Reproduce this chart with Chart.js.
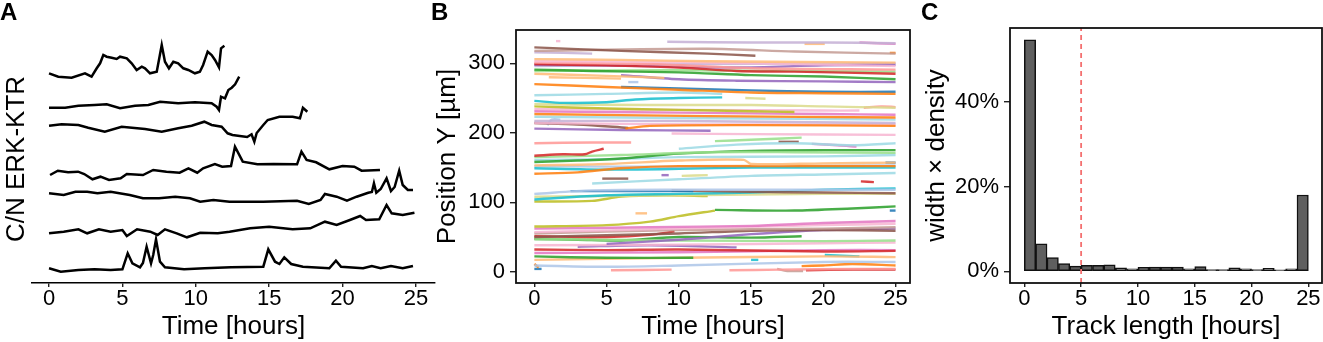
<!DOCTYPE html>
<html>
<head>
<meta charset="utf-8">
<script src="https://cdn.jsdelivr.net/npm/chart.js@4.4.1/dist/chart.umd.min.js"></script>
<style>
  body { margin: 0; background: #fff; }
  #wrap { position: relative; width: 1323px; height: 342px; overflow: hidden; font-family: 'Liberation Sans', Arial, sans-serif; }
  canvas { position: absolute; top: 0; }
  .tag { position: absolute; top: 0px; font-weight: bold; font-size: 24px; line-height: 24px; }
</style>
</head>
<body>
<div id="wrap">
  <canvas id="chartA" width="440" height="342" style="left:0px"></canvas>
  <canvas id="chartB" width="484" height="342" style="left:430px"></canvas>
  <canvas id="chartC" width="413" height="342" style="left:910px"></canvas>
  <div class="tag" style="left:0px">A</div>
  <div class="tag" style="left:431px">B</div>
  <div class="tag" style="left:921px">C</div>
</div>
<script>
// ---- panel A: C/N ERK-KTR traces of single cells, stacked with an offset ----
var timeTicks = [0, 5, 10, 15, 20, 25];

var trace1 = [[0,2.097],[0.63,2.063],[1.54,2.053],[2.45,2.097],[2.9,2.063],[3.25,2.147],[3.48,2.197],[3.7,2.28],[3.93,2.263],[4.27,2.253],[4.61,2.24],[4.84,2.263],[5.3,2.247],[5.63,2.197],[5.97,2.13],[6.32,2.163],[6.54,2.147],[6.88,2.097],[7.34,2.113],[7.68,2.38],[7.9,2.213],[8.17,2.147],[8.47,2.213],[8.8,2.197],[9.15,2.147],[9.49,2.13],[9.94,2.097],[10.28,2.113],[10.5,2.18],[10.81,2.313],[11.08,2.28],[11.31,2.23],[11.58,2.157],[11.72,2.347],[11.95,2.373]];
var trace2 = [[0,1.753],[1.1,1.753],[2.0,1.773],[3.1,1.78],[3.93,1.787],[4.84,1.747],[5.86,1.773],[6.77,1.78],[7.57,1.813],[8.8,1.797],[9.94,1.807],[11.08,1.797],[11.42,1.763],[11.58,1.73],[11.72,1.863],[11.99,1.847],[12.22,1.93],[12.45,1.953],[12.68,1.987],[12.96,2.063]];
var trace3 = [[0,1.573],[0.86,1.587],[2.0,1.58],[2.67,1.553],[3.8,1.513],[4.95,1.563],[6.54,1.54],[7.68,1.513],[8.8,1.547],[9.72,1.573],[10.58,1.613],[11.08,1.58],[11.76,1.563],[12.17,1.497],[12.5,1.48],[13.0,1.47],[13.5,1.46],[13.8,1.487],[13.99,1.413],[14.15,1.5],[14.6,1.58],[14.9,1.63],[15.7,1.663],[16.6,1.663],[17.1,1.647],[17.3,1.753],[17.6,1.713]];
var trace4 = [[0.07,1.08],[0.6,1.123],[1.3,1.107],[1.98,1.113],[2.4,1.09],[2.96,1.037],[3.5,1.063],[4.09,1.03],[4.88,1.047],[5.3,1.09],[6.4,1.08],[7.1,1.13],[8.0,1.113],[8.9,1.103],[9.5,1.147],[10.1,1.103],[10.5,1.147],[11.3,1.19],[11.8,1.163],[12.4,1.17],[12.67,1.363],[13.2,1.213],[14.2,1.187],[15.3,1.19],[16.9,1.187],[17.2,1.313],[17.55,1.23],[18.2,1.207],[19.1,1.137],[20.0,1.17],[20.8,1.163],[21.3,1.123],[22.55,1.13]];
var trace5 = [[0,0.897],[1.0,0.88],[1.8,0.913],[2.6,0.913],[3.3,0.897],[4.2,0.913],[5.5,0.88],[6.4,0.847],[7.5,0.847],[8.6,0.863],[9.6,0.847],[10.3,0.813],[11.2,0.83],[12.3,0.813],[14.6,0.813],[16.9,0.823],[17.7,0.79],[18.5,0.83],[18.8,0.89],[19.6,0.863],[20.3,0.823],[20.96,0.863],[21.75,0.903],[22.0,0.91],[22.14,0.997],[22.3,0.903],[22.6,0.94],[23.0,1.047],[23.3,0.92],[23.55,0.96],[23.86,1.123],[24.1,0.98],[24.45,0.93],[24.8,0.93]];
var trace6 = [[0,0.497],[1.0,0.513],[2.0,0.537],[2.6,0.497],[3.4,0.537],[4.2,0.513],[5.0,0.53],[5.3,0.47],[6.0,0.537],[6.9,0.513],[7.4,0.48],[7.9,0.537],[8.7,0.497],[9.4,0.457],[10.3,0.503],[11.5,0.497],[12.3,0.513],[13.0,0.53],[13.7,0.547],[15.0,0.563],[16.6,0.537],[17.8,0.547],[18.8,0.613],[19.6,0.58],[20.5,0.63],[21.2,0.67],[21.6,0.63],[22.5,0.637],[23.0,0.78],[23.35,0.697],[24.1,0.68],[24.9,0.703]];
var trace7 = [[0,0.147],[0.8,0.113],[2.0,0.13],[3.1,0.137],[4.2,0.13],[5.0,0.137],[5.36,0.297],[5.68,0.197],[6.2,0.157],[6.4,0.2],[6.65,0.363],[6.95,0.197],[7.1,0.28],[7.29,0.437],[7.56,0.213],[7.9,0.157],[9.2,0.137],[10.6,0.147],[12.4,0.157],[14.6,0.163],[14.94,0.337],[15.4,0.213],[15.7,0.19],[16.03,0.257],[16.5,0.19],[17.3,0.163],[19.1,0.147],[19.55,0.223],[19.9,0.163],[21.4,0.147],[22.0,0.17],[22.6,0.147],[23.3,0.17],[24.1,0.147],[24.8,0.17]];
var ktrTraces = [trace1, trace2, trace3, trace4, trace5, trace6, trace7];

// ---- panel B: nucleus tracks, [time h, position Y um] ----
var positionTicks = [0, 100, 200, 300];
var trackPoints = [
  [[9.2,331],[15,330],[20,330],[25,329]],
  [[1.5,332],[1.8,332]],
  [[18.7,328],[20.1,328]],
  [[22.5,330],[25,328]],
  [[0,323],[6,318],[12,314],[15.3,311]],
  [[0,318],[12,321],[18,317],[25,314]],
  [[0,316],[4,314]],
  [[24.6,315],[25,315]],
  [[0,306],[6,305],[12,303],[25,301]],
  [[0,303],[10,302],[25,296]],
  [[0,301],[8,299],[15,293],[25,291]],
  [[0,299],[5,297],[10,294],[14,289],[18,288],[25,285]],
  [[0,298],[8,296],[14,294],[20,297],[25,298]],
  [[0,296],[12,299],[25,300]],
  [[0,291],[4,289],[10,287],[15,283],[20,281],[25,277]],
  [[0,289],[10,290],[25,288]],
  [[0,285],[5,282],[9,279]],
  [[1,280],[6,278]],
  [[6,283],[10,277],[14,275],[20,274],[25,273]],
  [[6.5,273],[7.2,273]],
  [[0,270],[5,266],[10,262],[15,258],[20,257],[25,256]],
  [[6,266],[10,264],[15,261],[20,259],[25,259]],
  [[0,254],[5,256],[10,258],[13,256]],
  [[14.6,250],[16,249]],
  [[0,246],[2,243],[5,244],[7,248],[10,250],[13,251]],
  [[0,241],[8,240],[15,240],[20,238],[25,236]],
  [[0,238],[5,235],[10,233],[15,231],[18,230]],
  [[0,234],[10,233],[20,232],[22.5,232]],
  [[22.8,236],[24,238],[25,237]],
  [[0,231],[10,229],[20,227],[25,226]],
  [[0,227],[12,224],[25,222]],
  [[6.3,206],[8,210],[15,211],[25,210]],
  [[0,223],[12,221],[25,219]],
  [[0,217],[10,217],[25,214]],
  [[0,214],[12,212],[25,212]],
  [[0,214],[3,212],[6.5,207]],
  [[0,206],[6,204],[12.2,203]],
  [[0.9,211],[1.2,219],[1.8,219]],
  [[9.5,199],[15,198],[25,197]],
  [[0,185],[4,186],[6.7,186]],
  [[12.5,188],[15,190],[18.5,193]],
  [[10,177],[14,183],[18,185],[22,182],[25,185]],
  [[16.9,187],[18.3,187]],
  [[19.2,184],[21,182],[22.3,180]],
  [[0,167],[2,169],[3.5,169],[4,173],[4.8,177]],
  [[0,165],[6,168],[12,172],[18,172],[25,171]],
  [[0,158],[3,160],[6,163],[10,170],[15,174],[20,175],[25,175]],
  [[0,161],[5,162],[10,165],[20,166],[25,168]],
  [[0,153],[5,155],[10,160],[14.5,161],[15,155],[20,156],[25,157]],
  [[0,141],[3,143],[6,149],[10,152],[25,152]],
  [[0,149],[5,147],[10,148],[15,150],[20,150],[25,150]],
  [[0,152],[10,151],[25,153]],
  [[24.3,157],[25,157]],
  [[4,127],[10,133],[15,138],[20,140],[25,142]],
  [[4.7,134],[6.5,134]],
  [[8.8,139],[9.3,139]],
  [[10.2,138],[12,139]],
  [[22.6,130],[23.5,129]],
  [[0,112],[4,117],[10,118],[25,118]],
  [[2.5,116],[6,116],[11,116]],
  [[9.5,117],[15,115],[20,114],[25,113]],
  [[0,104],[5,110],[10,112],[15,114],[20,118],[25,120]],
  [[0,108],[10,110],[20,112],[25,112]],
  [[0,101],[4,102],[6,108],[9,110],[12,109]],
  [[7,84],[7.8,84]],
  [[0,65],[5,67],[8,72],[10,80],[12.5,88]],
  [[12.5,89],[18,88],[22,91],[25,94]],
  [[24.6,88],[25,88]],
  [[0,62],[8,64],[15,66],[20,70],[25,73]],
  [[0,57],[10,62],[20,67],[25,69]],
  [[0,55],[10,60],[20,62],[25,64]],
  [[0,50],[10,55],[15,59],[20,60],[25,59]],
  [[0,51],[5,50],[8,53],[9.7,58]],
  [[5,40],[10,46],[15,54],[20,60],[25,62]],
  [[0,47],[10,45],[20,44],[25,45]],
  [[0,47],[3,46],[6,45],[10,50],[15,49],[18.5,51]],
  [[0,38],[10,39],[20,41],[25,42]],
  [[3,36],[8,38],[14,35]],
  [[0,32],[5,31],[10,32],[20,29],[25,30]],
  [[0,27],[10,28],[20,31],[25,31]],
  [[0,22],[5,20],[11,20]],
  [[0,17],[10,20],[20,22],[25,21]],
  [[15,17],[15.5,17]],
  [[20.1,24],[22.5,22]],
  [[0,9],[5,7],[10,9],[20,14],[25,14]],
  [[5.3,2],[9.5,3]],
  [[13.5,2],[17,3],[22,4],[25,4]],
  [[18.5,8],[20,9],[22,11],[25,9]],
  [[18.8,2],[22,3],[25,3]],
  [[16.8,4],[17.5,1],[18.6,1]],
  [[0,11],[0.3,6]],
  [[0,4],[0.5,4]]
];
// tab20 colour index for each track above
var trackColor = [9,13,3,12,10,11,9,2,3,13,7,6,8,9,4,5,3,3,8,1,2,0,19,17,18,17,16,13,7,12,2,2,19,9,13,10,8,1,13,7,5,19,10,12,6,5,4,19,3,2,18,1,0,19,10,8,17,6,1,0,10,18,17,16,3,16,4,0,12,13,11,10,6,8,5,4,13,8,6,12,4,3,18,18,1,7,7,2,6,11,2,0];

// ---- panel C: histogram of track length ----
var binCenters = [0.5,1.5,2.5,3.5,4.5,5.5,6.5,7.5,8.5,9.5,10.5,11.5,12.5,13.5,14.5,15.5,16.5,17.5,18.5,19.5,20.5,21.5,22.5,23.5,24.5];
var binShare = [54.6,6.5,3.2,1.8,1.2,1.4,1.4,1.5,0.8,0.6,0.9,1.0,1.0,1.0,0.6,1.1,0.4,0.4,0.8,0.55,0.4,0.7,0.35,0.6,18.0];
var shareTicks = [0, 20, 40];
var cutoffHours = 5;

var tab20 = ['#1f77b4','#aec7e8','#ff7f0e','#ffbb78','#2ca02c','#98df8a','#d62728','#ff9896','#9467bd','#c5b0d5',
             '#8c564b','#c49c94','#e377c2','#f7b6d2','#7f7f7f','#c7c7c7','#bcbd22','#dbdb8d','#17becf','#9edae5'];

Chart.defaults.font.family = "'Liberation Sans', Arial, sans-serif";
Chart.defaults.color = '#000';

function fixedTicks(vals) {
  return function (s) { s.ticks = vals.map(function (v) { return { value: v }; }); };
}

var frame = {
  id: 'frame',
  afterDatasetsDraw: function (chart) {
    var a = chart.chartArea, c = chart.ctx;
    c.save();
    c.strokeStyle = '#111';
    c.lineWidth = 1.8;
    c.strokeRect(a.left, a.top, a.right - a.left, a.bottom - a.top);
    c.restore();
  }
};

var tickFont = { size: 22, lineHeight: 1 };
var titleFont = { size: 26 };

function xAxis(min, max, title) {
  return {
    type: 'linear', min: min, max: max, offset: false,
    afterBuildTicks: fixedTicks(timeTicks),
    afterFit: function (s) { s.height = 59; },
    grid: { display: true, offset: false, drawOnChartArea: false, drawTicks: true, tickLength: 4, color: '#222', lineWidth: 1.4 },
    ticks: { font: tickFont, color: '#000', padding: 1, maxRotation: 0, autoSkip: false },
    title: { display: true, text: title, font: titleFont, color: '#000', padding: { top: 0, bottom: 0 } }
  };
}

// panel A
new Chart(document.getElementById('chartA'), {
  type: 'line',
  data: {
    datasets: ktrTraces.map(function (tr) {
      return { data: tr.map(function (p) { return { x: p[0], y: p[1] }; }),
               borderColor: '#000', borderWidth: 2.5, pointRadius: 0, tension: 0, fill: false };
    })
  },
  options: {
    animation: false, responsive: false,
    layout: { padding: { left: 0, top: 35, right: 5, bottom: 0 } },
    plugins: { legend: { display: false }, tooltip: { enabled: false } },
    scales: {
      x: Object.assign(xAxis(-1.16, 26.3, 'Time [hours]'), { border: { display: true, color: '#000', width: 1.6 } }),
      y: {
        min: 0, max: 2.48,
        ticks: { display: false }, grid: { display: false }, border: { display: false },
        afterFit: function (s) { s.width = 32; },
        title: { display: true, text: 'C/N ERK-KTR', font: titleFont, color: '#000', padding: { top: 1.4, bottom: 0 } }
      }
    }
  }
});

// panel B
new Chart(document.getElementById('chartB'), {
  type: 'line',
  data: {
    datasets: trackPoints.map(function (tr, i) {
      return { data: tr.map(function (p) { return { x: p[0], y: p[1] }; }),
               borderColor: tab20[trackColor[i]] + 'dd', borderWidth: 2.4, pointRadius: 0, tension: 0.3, fill: false };
    })
  },
  options: {
    animation: false, responsive: false,
    layout: { padding: { left: 0, top: 30, right: 4, bottom: 0 } },
    plugins: { legend: { display: false }, tooltip: { enabled: false } },
    scales: {
      x: Object.assign(xAxis(-1.27, 26.0, 'Time [hours]'), { border: { display: false } }),
      y: {
        min: -16.3, max: 348,
        afterBuildTicks: fixedTicks(positionTicks),
        afterFit: function (s) { s.width = 86; },
        grid: { display: true, drawOnChartArea: false, drawTicks: true, tickLength: 6, color: '#222', lineWidth: 1.4 },
        border: { display: false },
        ticks: { font: tickFont, color: '#000', padding: 5 },
        title: { display: true, text: 'Position Y [µm]', font: titleFont, color: '#000', padding: { top: 2, bottom: 0 } }
      }
    }
  },
  plugins: [frame]
});

// panel C
new Chart(document.getElementById('chartC'), {
  type: 'bar',
  data: {
    datasets: [
      { type: 'line', data: [{ x: cutoffHours, y: -2.77 }, { x: cutoffHours, y: 57.4 }],
        borderColor: '#f47070', borderWidth: 1.8, borderDash: [5, 4], pointRadius: 0, order: 1 },
      { type: 'bar', data: binCenters.map(function (c, i) { return { x: c, y: binShare[i] }; }),
        backgroundColor: '#5f5f5f', borderColor: '#111', borderWidth: 1.5, borderSkipped: false,
        barPercentage: 1, categoryPercentage: 1, order: 2 }
    ]
  },
  options: {
    animation: false, responsive: false,
    layout: { padding: { left: 0, top: 28, right: 1, bottom: 0 } },
    plugins: { legend: { display: false }, tooltip: { enabled: false } },
    scales: {
      x: Object.assign(xAxis(-1.26, 26.2, 'Track length [hours]'), { border: { display: false } }),
      y: {
        min: -2.77, max: 57.4,
        afterBuildTicks: fixedTicks(shareTicks),
        afterFit: function (s) { s.width = 100; },
        grid: { display: true, drawOnChartArea: false, drawTicks: true, tickLength: 6, color: '#222', lineWidth: 1.4 },
        border: { display: false },
        ticks: { font: tickFont, color: '#000', padding: 5, callback: function (v) { return v + '%'; } },
        title: { display: true, text: 'width × density', font: titleFont, color: '#000', padding: { top: 11, bottom: 0 } }
      }
    }
  },
  plugins: [frame]
});
</script>
</body>
</html>
